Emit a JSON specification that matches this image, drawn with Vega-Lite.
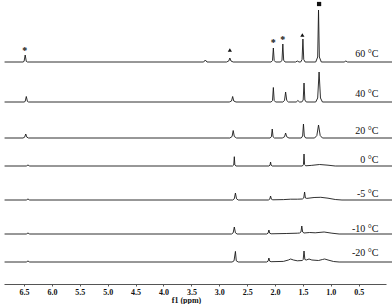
{
  "$schema": "https://vega.github.io/schema/vega-lite/v6.json",
  "padding": {"left": 2, "right": 0, "top": 0, "bottom": 0},
  "spacing": 0,
  "background": "white",
  "config": {"view": {"stroke": null}, "concat": {"spacing": 0}},
  "resolve": {"scale": {"x": "independent", "y": "independent"}},
  "datasets": {
    "t60": [
      {"ppm": 6.85, "i": 0}, {"ppm": 6.52, "i": 0}, {"ppm": 6.50, "i": 0.6}, {"ppm": 6.48, "i": 7}, {"ppm": 6.46, "i": 0.6}, {"ppm": 6.44, "i": 0},
      {"ppm": 3.28, "i": 0}, {"ppm": 3.25, "i": 2}, {"ppm": 3.22, "i": 0},
      {"ppm": 2.87, "i": 0}, {"ppm": 2.83, "i": 1}, {"ppm": 2.81, "i": 4}, {"ppm": 2.79, "i": 1}, {"ppm": 2.75, "i": 0},
      {"ppm": 2.07, "i": 0}, {"ppm": 2.045, "i": 1.5}, {"ppm": 2.03, "i": 14}, {"ppm": 2.015, "i": 1.5}, {"ppm": 1.99, "i": 0},
      {"ppm": 1.90, "i": 0}, {"ppm": 1.875, "i": 1.8}, {"ppm": 1.86, "i": 18}, {"ppm": 1.845, "i": 1.8}, {"ppm": 1.82, "i": 0},
      {"ppm": 1.63, "i": 0}, {"ppm": 1.60, "i": 1}, {"ppm": 1.57, "i": 0},
      {"ppm": 1.54, "i": 0}, {"ppm": 1.515, "i": 2.5}, {"ppm": 1.50, "i": 23}, {"ppm": 1.485, "i": 2.5}, {"ppm": 1.46, "i": 0},
      {"ppm": 1.27, "i": 0}, {"ppm": 1.235, "i": 5}, {"ppm": 1.22, "i": 52}, {"ppm": 1.205, "i": 5}, {"ppm": 1.17, "i": 0},
      {"ppm": 0.76, "i": 0}, {"ppm": 0.73, "i": 1}, {"ppm": 0.70, "i": 0},
      {"ppm": -0.1, "i": 0}
    ],
    "t40": [
      {"ppm": 6.85, "i": 0}, {"ppm": 6.50, "i": 0}, {"ppm": 6.48, "i": 0.6}, {"ppm": 6.46, "i": 5.5}, {"ppm": 6.44, "i": 0.6}, {"ppm": 6.42, "i": 0},
      {"ppm": 2.82, "i": 0}, {"ppm": 2.78, "i": 1}, {"ppm": 2.76, "i": 5.5}, {"ppm": 2.74, "i": 1}, {"ppm": 2.70, "i": 0},
      {"ppm": 2.07, "i": 0}, {"ppm": 2.045, "i": 1.5}, {"ppm": 2.03, "i": 14.5}, {"ppm": 2.015, "i": 1.5}, {"ppm": 1.99, "i": 0},
      {"ppm": 1.86, "i": 0}, {"ppm": 1.83, "i": 1.5}, {"ppm": 1.81, "i": 10}, {"ppm": 1.79, "i": 1.5}, {"ppm": 1.76, "i": 0},
      {"ppm": 1.62, "i": 0}, {"ppm": 1.59, "i": 1.5}, {"ppm": 1.56, "i": 0},
      {"ppm": 1.52, "i": 0}, {"ppm": 1.495, "i": 2}, {"ppm": 1.48, "i": 19}, {"ppm": 1.465, "i": 2}, {"ppm": 1.44, "i": 0},
      {"ppm": 1.27, "i": 0}, {"ppm": 1.235, "i": 4}, {"ppm": 1.21, "i": 30}, {"ppm": 1.185, "i": 4}, {"ppm": 1.15, "i": 0},
      {"ppm": -0.1, "i": 0}
    ],
    "t20": [
      {"ppm": 6.85, "i": 0}, {"ppm": 6.52, "i": 0}, {"ppm": 6.49, "i": 0.8}, {"ppm": 6.47, "i": 4}, {"ppm": 6.45, "i": 0.8}, {"ppm": 6.42, "i": 0},
      {"ppm": 2.81, "i": 0}, {"ppm": 2.77, "i": 1.5}, {"ppm": 2.75, "i": 7.5}, {"ppm": 2.73, "i": 1.5}, {"ppm": 2.69, "i": 0},
      {"ppm": 2.09, "i": 0}, {"ppm": 2.065, "i": 1.2}, {"ppm": 2.05, "i": 9}, {"ppm": 2.035, "i": 1.2}, {"ppm": 2.01, "i": 0},
      {"ppm": 1.87, "i": 0}, {"ppm": 1.83, "i": 1.2}, {"ppm": 1.81, "i": 5}, {"ppm": 1.79, "i": 1.2}, {"ppm": 1.75, "i": 0},
      {"ppm": 1.53, "i": 0}, {"ppm": 1.505, "i": 2}, {"ppm": 1.49, "i": 14}, {"ppm": 1.475, "i": 2}, {"ppm": 1.45, "i": 0},
      {"ppm": 1.29, "i": 0}, {"ppm": 1.25, "i": 2.5}, {"ppm": 1.22, "i": 13}, {"ppm": 1.19, "i": 2.5}, {"ppm": 1.15, "i": 0},
      {"ppm": -0.1, "i": 0}
    ],
    "t0": [
      {"ppm": 6.85, "i": 0}, {"ppm": 6.46, "i": 0}, {"ppm": 6.43, "i": 1}, {"ppm": 6.40, "i": 0},
      {"ppm": 2.76, "i": 0}, {"ppm": 2.74, "i": 1}, {"ppm": 2.73, "i": 9.3}, {"ppm": 2.72, "i": 1}, {"ppm": 2.70, "i": 0},
      {"ppm": 2.11, "i": 0}, {"ppm": 2.09, "i": 0.8}, {"ppm": 2.08, "i": 4}, {"ppm": 2.07, "i": 0.8}, {"ppm": 2.05, "i": 0},
      {"ppm": 1.51, "i": 0}, {"ppm": 1.49, "i": 1.5}, {"ppm": 1.48, "i": 12}, {"ppm": 1.47, "i": 1.5}, {"ppm": 1.45, "i": 0.2},
      {"ppm": 1.35, "i": 0.6}, {"ppm": 1.2, "i": 1.5}, {"ppm": 1.05, "i": 0.8}, {"ppm": 0.92, "i": 0},
      {"ppm": -0.1, "i": 0}
    ],
    "tm5": [
      {"ppm": 6.85, "i": 0}, {"ppm": 6.46, "i": 0}, {"ppm": 6.43, "i": 1}, {"ppm": 6.40, "i": 0},
      {"ppm": 2.76, "i": 0}, {"ppm": 2.73, "i": 1.2}, {"ppm": 2.71, "i": 7}, {"ppm": 2.69, "i": 1.2}, {"ppm": 2.66, "i": 0},
      {"ppm": 2.12, "i": 0}, {"ppm": 2.095, "i": 0.8}, {"ppm": 2.08, "i": 4}, {"ppm": 2.065, "i": 0.8}, {"ppm": 2.04, "i": 0.2},
      {"ppm": 1.85, "i": 0.4}, {"ppm": 1.72, "i": 0.8}, {"ppm": 1.60, "i": 0.8},
      {"ppm": 1.51, "i": 1}, {"ppm": 1.485, "i": 2}, {"ppm": 1.47, "i": 8}, {"ppm": 1.455, "i": 2}, {"ppm": 1.43, "i": 1.6},
      {"ppm": 1.3, "i": 2.5}, {"ppm": 1.18, "i": 2.7}, {"ppm": 1.05, "i": 1.8}, {"ppm": 0.92, "i": 0.5}, {"ppm": 0.8, "i": 0},
      {"ppm": -0.1, "i": 0}
    ],
    "tm10": [
      {"ppm": 6.85, "i": 0}, {"ppm": 6.46, "i": 0}, {"ppm": 6.43, "i": 1}, {"ppm": 6.40, "i": 0},
      {"ppm": 2.78, "i": 0}, {"ppm": 2.75, "i": 1.2}, {"ppm": 2.73, "i": 7}, {"ppm": 2.71, "i": 1.2}, {"ppm": 2.68, "i": 0},
      {"ppm": 2.15, "i": 0}, {"ppm": 2.125, "i": 0.8}, {"ppm": 2.11, "i": 4}, {"ppm": 2.095, "i": 0.8}, {"ppm": 2.07, "i": 0.2},
      {"ppm": 1.80, "i": 0.5}, {"ppm": 1.60, "i": 0.8},
      {"ppm": 1.56, "i": 1}, {"ppm": 1.535, "i": 2}, {"ppm": 1.52, "i": 8}, {"ppm": 1.505, "i": 2}, {"ppm": 1.48, "i": 1},
      {"ppm": 1.38, "i": 1.5}, {"ppm": 1.28, "i": 1.2}, {"ppm": 1.12, "i": 2}, {"ppm": 0.98, "i": 0.8}, {"ppm": 0.85, "i": 0},
      {"ppm": -0.1, "i": 0}
    ],
    "tm20": [
      {"ppm": 6.85, "i": 0}, {"ppm": 6.46, "i": 0}, {"ppm": 6.43, "i": 1}, {"ppm": 6.40, "i": 0},
      {"ppm": 2.77, "i": 0}, {"ppm": 2.735, "i": 1.2}, {"ppm": 2.71, "i": 10.6}, {"ppm": 2.695, "i": 1.2}, {"ppm": 2.66, "i": 0},
      {"ppm": 2.15, "i": 0}, {"ppm": 2.125, "i": 0.8}, {"ppm": 2.11, "i": 4}, {"ppm": 2.095, "i": 0.8}, {"ppm": 2.07, "i": 0.3},
      {"ppm": 1.85, "i": 0.6}, {"ppm": 1.76, "i": 2}, {"ppm": 1.72, "i": 3}, {"ppm": 1.67, "i": 2}, {"ppm": 1.60, "i": 1.2},
      {"ppm": 1.51, "i": 1.5}, {"ppm": 1.495, "i": 2.5}, {"ppm": 1.48, "i": 11}, {"ppm": 1.465, "i": 2.5}, {"ppm": 1.44, "i": 2},
      {"ppm": 1.39, "i": 3}, {"ppm": 1.34, "i": 2}, {"ppm": 1.22, "i": 1.5}, {"ppm": 1.15, "i": 2.5}, {"ppm": 1.11, "i": 3}, {"ppm": 1.05, "i": 2}, {"ppm": 0.95, "i": 0.5}, {"ppm": 0.85, "i": 0},
      {"ppm": -0.1, "i": 0}
    ],
    "markers": [
      {"ppm": 6.49, "i": 13.5, "sym": "*"},
      {"ppm": 2.81, "i": 12, "sym": "tri"},
      {"ppm": 2.03, "i": 20.8, "sym": "*"},
      {"ppm": 1.86, "i": 24.2, "sym": "*"},
      {"ppm": 1.51, "i": 27, "sym": "tri"},
      {"ppm": 1.21, "i": 58, "sym": "sq"}
    ]
  },
  "vconcat": [
    {
      "width": 382, "height": 64,
      "layer": [
        {"data": {"name": "t60"}, "mark": {"type": "line", "color": "#1a1a1a", "strokeWidth": 0.9, "clip": false},
         "encoding": {"x": {"field": "ppm", "type": "quantitative", "scale": {"domain": [0.01, 6.86], "reverse": true, "nice": false, "zero": false}, "axis": null},
                      "y": {"field": "i", "type": "quantitative", "scale": {"domain": [-2, 62], "nice": false, "zero": false}, "axis": null}}},
        {"data": {"values": [{"label": "60 °C"}]}, "mark": {"type": "text", "align": "right", "baseline": "alphabetic", "font": "Liberation Serif", "fontSize": 10, "color": "#111"},
         "encoding": {"x": {"datum": 0.145, "type": "quantitative"}, "y": {"datum": 4.7, "type": "quantitative"}, "text": {"field": "label"}}},
        {"data": {"name": "markers"}, "transform": [{"filter": "datum.sym === '*'"}], "mark": {"type": "text", "align": "center", "baseline": "alphabetic", "dy": 5, "font": "Liberation Serif", "fontSize": 10, "fontWeight": "bold", "color": "#111"},
         "encoding": {"x": {"field": "ppm", "type": "quantitative"}, "y": {"field": "i", "type": "quantitative"}, "text": {"field": "sym"}}},
        {"data": {"name": "markers"}, "transform": [{"filter": "datum.sym === 'tri'"}], "mark": {"type": "point", "shape": "triangle-up", "filled": true, "size": 18, "color": "#111", "opacity": 1},
         "encoding": {"x": {"field": "ppm", "type": "quantitative"}, "y": {"field": "i", "type": "quantitative"}}},
        {"data": {"name": "markers"}, "transform": [{"filter": "datum.sym === 'sq'"}], "mark": {"type": "point", "shape": "square", "filled": true, "size": 18, "color": "#111", "opacity": 1},
         "encoding": {"x": {"field": "ppm", "type": "quantitative"}, "y": {"field": "i", "type": "quantitative"}}}
      ]
    },
    {
      "width": 382, "height": 40,
      "layer": [
        {"data": {"name": "t40"}, "mark": {"type": "line", "color": "#1a1a1a", "strokeWidth": 0.9, "clip": false},
         "encoding": {"x": {"field": "ppm", "type": "quantitative", "scale": {"domain": [0.01, 6.86], "reverse": true, "nice": false, "zero": false}, "axis": null},
                      "y": {"field": "i", "type": "quantitative", "scale": {"domain": [-2, 38], "nice": false, "zero": false}, "axis": null}}},
        {"data": {"values": [{"label": "40 °C"}]}, "mark": {"type": "text", "align": "right", "baseline": "alphabetic", "font": "Liberation Serif", "fontSize": 10, "color": "#111"},
         "encoding": {"x": {"datum": 0.145, "type": "quantitative"}, "y": {"datum": 5, "type": "quantitative"}, "text": {"field": "label"}}}
      ]
    },
    {
      "width": 382, "height": 36,
      "layer": [
        {"data": {"name": "t20"}, "mark": {"type": "line", "color": "#1a1a1a", "strokeWidth": 0.9, "clip": false},
         "encoding": {"x": {"field": "ppm", "type": "quantitative", "scale": {"domain": [0.01, 6.86], "reverse": true, "nice": false, "zero": false}, "axis": null},
                      "y": {"field": "i", "type": "quantitative", "scale": {"domain": [-2, 34], "nice": false, "zero": false}, "axis": null}}},
        {"data": {"values": [{"label": "20 °C"}]}, "mark": {"type": "text", "align": "right", "baseline": "alphabetic", "font": "Liberation Serif", "fontSize": 10, "color": "#111"},
         "encoding": {"x": {"datum": 0.145, "type": "quantitative"}, "y": {"datum": 3.7, "type": "quantitative"}, "text": {"field": "label"}}}
      ]
    },
    {
      "width": 382, "height": 28,
      "layer": [
        {"data": {"name": "t0"}, "mark": {"type": "line", "color": "#1a1a1a", "strokeWidth": 0.9, "clip": false},
         "encoding": {"x": {"field": "ppm", "type": "quantitative", "scale": {"domain": [0.01, 6.86], "reverse": true, "nice": false, "zero": false}, "axis": null},
                      "y": {"field": "i", "type": "quantitative", "scale": {"domain": [-2, 26], "nice": false, "zero": false}, "axis": null}}},
        {"data": {"values": [{"label": "0 °C"}]}, "mark": {"type": "text", "align": "right", "baseline": "alphabetic", "font": "Liberation Serif", "fontSize": 10, "color": "#111"},
         "encoding": {"x": {"datum": 0.145, "type": "quantitative"}, "y": {"datum": 2.7, "type": "quantitative"}, "text": {"field": "label"}}}
      ]
    },
    {
      "width": 382, "height": 34,
      "layer": [
        {"data": {"name": "tm5"}, "mark": {"type": "line", "color": "#1a1a1a", "strokeWidth": 0.9, "clip": false},
         "encoding": {"x": {"field": "ppm", "type": "quantitative", "scale": {"domain": [0.01, 6.86], "reverse": true, "nice": false, "zero": false}, "axis": null},
                      "y": {"field": "i", "type": "quantitative", "scale": {"domain": [-2, 32], "nice": false, "zero": false}, "axis": null}}},
        {"data": {"values": [{"label": "-5 °C"}]}, "mark": {"type": "text", "align": "right", "baseline": "alphabetic", "font": "Liberation Serif", "fontSize": 10, "color": "#111"},
         "encoding": {"x": {"datum": 0.145, "type": "quantitative"}, "y": {"datum": 3.3, "type": "quantitative"}, "text": {"field": "label"}}}
      ]
    },
    {
      "width": 382, "height": 34,
      "layer": [
        {"data": {"name": "tm10"}, "mark": {"type": "line", "color": "#1a1a1a", "strokeWidth": 0.9, "clip": false},
         "encoding": {"x": {"field": "ppm", "type": "quantitative", "scale": {"domain": [0.01, 6.86], "reverse": true, "nice": false, "zero": false}, "axis": null},
                      "y": {"field": "i", "type": "quantitative", "scale": {"domain": [-2, 32], "nice": false, "zero": false}, "axis": null}}},
        {"data": {"values": [{"label": "-10 °C"}]}, "mark": {"type": "text", "align": "right", "baseline": "alphabetic", "font": "Liberation Serif", "fontSize": 10, "color": "#111"},
         "encoding": {"x": {"datum": 0.145, "type": "quantitative"}, "y": {"datum": 2, "type": "quantitative"}, "text": {"field": "label"}}}
      ]
    },
    {
      "width": 382, "height": 48,
      "layer": [
        {"data": {"name": "tm20"}, "mark": {"type": "line", "color": "#1a1a1a", "strokeWidth": 0.9, "clip": false},
         "encoding": {"x": {"field": "ppm", "type": "quantitative", "scale": {"domain": [0.01, 6.86], "reverse": true, "nice": false, "zero": false},
                            "axis": {"values": [6.5, 6.0, 5.5, 5.0, 4.5, 4.0, 3.5, 3.0, 2.5, 2.0, 1.5, 1.0, 0.5], "tickCount": 20, "format": ".1f", "title": "f1 (ppm)", "labelOverlap": false, "labelFlush": false,
                                     "domainColor": "#555", "domainWidth": 1, "tickColor": "#555", "tickSize": 2, "grid": false,
                                     "labelFont": "Liberation Serif", "labelFontWeight": "bold", "labelFontSize": 8, "labelColor": "#111", "labelPadding": 2,
                                     "titleFont": "Liberation Serif", "titleFontWeight": "bold", "titleFontSize": 8, "titleColor": "#111", "titlePadding": 0, "titleX": 182}},
                      "y": {"field": "i", "type": "quantitative", "scale": {"domain": [-22, 26], "nice": false, "zero": false}, "axis": null}}},
        {"data": {"values": [{"label": "-20 °C"}]}, "mark": {"type": "text", "align": "right", "baseline": "alphabetic", "font": "Liberation Serif", "fontSize": 10, "color": "#111"},
         "encoding": {"x": {"datum": 0.145, "type": "quantitative"}, "y": {"datum": 6.3, "type": "quantitative"}, "text": {"field": "label"}}}
      ]
    }
  ]
}
